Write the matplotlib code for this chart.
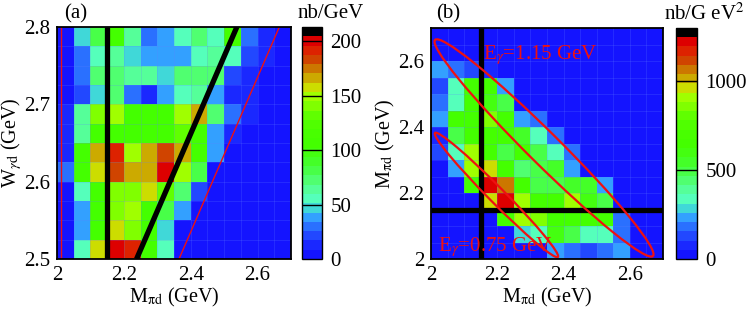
import numpy as np
import matplotlib
matplotlib.use("Agg")
import matplotlib.pyplot as plt
from matplotlib.colors import ListedColormap
from matplotlib.patches import Ellipse

plt.rcParams['font.family'] = ['Liberation Serif', 'DejaVu Serif']
plt.rcParams['mathtext.fontset'] = 'stix'

# ---------------- data ----------------
x_edges = np.round(np.arange(2.0, 2.7001, 0.05), 3)          # M_pi d bins
yA_edges = np.round(np.arange(2.5, 2.8001, 0.025), 4)        # W_gamma d bins
yB_edges = np.round(np.arange(2.0, 2.7001, 0.05), 3)         # M_pi d bins (panel b)

# panel (a): nb/GeV, rows listed from top (W=2.8) to bottom (W=2.5)
panel_a_top_to_bottom = [
    [4, 47, 81, 106, 64, 30, 38, 55, 72, 55, 106, 30, 13, 4],
    [4, 30, 55, 64, 47, 38, 38, 38, 55, 64, 55, 21, 13, 4],
    [4, 30, 72, 72, 64, 64, 47, 72, 72, 72, 21, 13, 4, 4],
    [4, 21, 47, 72, 30, 17, 38, 55, 60, 38, 13, 13, 4, 4],
    [13, 64, 140, 149, 106, 106, 106, 149, 166, 72, 30, 13, 4, 4],
    [13, 64, 106, 106, 106, 106, 110, 132, 106, 38, 13, 4, 4, 4],
    [17, 106, 166, 192, 149, 166, 183, 166, 106, 38, 4, 4, 4, 4],
    [30, 106, 157, 183, 166, 166, 200, 145, 81, 4, 4, 4, 4, 4],
    [8, 55, 106, 140, 140, 157, 132, 72, 21, 4, 4, 4, 4, 4],
    [4, 38, 106, 140, 145, 106, 81, 38, 4, 4, 4, 4, 4, 4],
    [4, 38, 106, 157, 140, 106, 47, 8, 4, 4, 4, 4, 4, 4],
    [4, 55, 157, 200, 192, 106, 55, 4, 4, 4, 4, 4, 4, 4],
]

# panel (b): nb/GeV^2, rows listed from top (M=2.7) to bottom (M=2.0)
panel_b_top_to_bottom = [
    [0, 0, 0, 0, 0, 0, 0, 0, 0, 0, 0, 0, 0, 0],
    [0, 0, 0, 0, 0, 0, 0, 0, 0, 0, 0, 0, 0, 0],
    [234, 182, 130, 60, 0, 0, 0, 0, 0, 0, 0, 0, 0, 0],
    [130, 338, 650, 650, 234, 0, 0, 0, 0, 0, 0, 0, 0, 0],
    [182, 338, 650, 620, 494, 0, 0, 0, 0, 0, 0, 0, 0, 0],
    [234, 650, 650, 858, 650, 234, 182, 0, 0, 0, 0, 0, 0, 0],
    [78, 494, 650, 650, 650, 546, 338, 182, 0, 0, 0, 0, 0, 0],
    [130, 338, 910, 650, 494, 650, 494, 338, 182, 0, 0, 0, 0, 0],
    [0, 234, 910, 962, 650, 442, 494, 546, 234, 0, 0, 0, 0, 0],
    [0, 0, 650, 1222, 1066, 650, 494, 494, 546, 546, 234, 0, 0, 0],
    [0, 0, 0, 962, 1222, 910, 650, 650, 910, 600, 494, 0, 0, 0],
    [0, 0, 0, 0, 650, 910, 880, 650, 650, 650, 650, 182, 0, 0],
    [0, 0, 0, 0, 0, 260, 338, 598, 494, 338, 338, 182, 0, 0],
    [0, 0, 0, 0, 0, 0, 0, 234, 182, 150, 200, 234, 0, 0],
]

cbar_a_ticks = [0, 50, 100, 150, 200]
cbar_b_ticks = [0, 500, 1000]
vmax_a = 213
vmax_b = 1300

palette = ['#1414ff', '#1a28ff', '#2248ff', '#2a70ff', '#33a0ff', '#40d8d8',
           '#55ffbb', '#55ff99', '#50ff70', '#48ff48', '#44ff28', '#44ff10',
           '#44ff00', '#48ff00', '#50ff00', '#60ff00', '#80ff00', '#a0ff00',
           '#ccdd00', '#ccaa00', '#cc7700', '#d04400', '#dd2200', '#dd0000',
           '#000000']
cmap = ListedColormap(palette)

# ---------------- figure ----------------
W, H = 747, 317
fig = plt.figure(figsize=(W / 100, H / 100), dpi=100)

def fa(l, t, r, b):
    return [l / W, 1 - b / H, (r - l) / W, (b - t) / H]

ax1 = fig.add_axes(fa(57, 27, 291, 259))
cax1 = fig.add_axes(fa(302, 27, 322, 259))
ax2 = fig.add_axes(fa(431, 28, 663, 259))
cax2 = fig.add_axes(fa(676, 28, 697, 259))

FS = 15
FSL = 14.5
RED = '#ee1111'

def style_axes(ax):
    for s in ax.spines.values():
        s.set_linewidth(1.3)
        s.set_zorder(10)
    ax.tick_params(length=0, labelsize=FS, pad=5)

def faint_grid(ax, xe, ye):
    for x in xe[1:-1]:
        ax.axvline(x, color='#6080ff', lw=0.6, alpha=0.25, zorder=2)
    for y in ye[1:-1]:
        ax.axhline(y, color='#6080ff', lw=0.6, alpha=0.25, zorder=2)

# panel (a)
Za = np.array(panel_a_top_to_bottom)[::-1]
m1 = ax1.pcolormesh(x_edges, yA_edges, Za, cmap=cmap, vmin=0, vmax=vmax_a, zorder=1)
faint_grid(ax1, x_edges, yA_edges)
ax1.set_xlim(2.0, 2.7)
ax1.set_ylim(2.5, 2.8)
ax1.set_xticks([2.0, 2.2, 2.4, 2.6])
ax1.set_xticklabels(['2', '2.2', '2.4', '2.6'])
ax1.set_yticks([2.5, 2.6, 2.7, 2.8])
ax1.set_yticklabels(['2.5', '2.6', '2.7', '2.8'])
style_axes(ax1)
ax1.plot([2.15, 2.15], [2.5, 2.8], color='k', lw=3.8, zorder=5, solid_capstyle='butt')
ax1.plot([2.238, 2.538], [2.5, 2.8], color='k', lw=3.8, zorder=5, solid_capstyle='butt')
ax1.plot([2.012, 2.012], [2.5, 2.8], color=RED, lw=1.0, zorder=5)
ax1.plot([2.365, 2.665], [2.5, 2.8], color=RED, lw=1.0, zorder=5)
ax1.set_xlabel(r'M$_{\mathrm{\pi d}}$ (GeV)', fontsize=FSL)
ax1.xaxis.set_label_coords(0.5, -0.115)
ax1.set_ylabel(r'W$_{\gamma \mathrm{d}}$ (GeV)', fontsize=FSL)
ax1.yaxis.set_label_coords(-0.14, 0.5)
fig.text(64 / W, 1 - 14 / H, '(a)', fontsize=FS, va='center', ha='left')

cb1 = fig.colorbar(m1, cax=cax1, ticks=cbar_a_ticks)
cb1.outline.set_linewidth(1.0)
cax1.tick_params(length=0, labelsize=FS, pad=6)
for t in cbar_a_ticks[1:]:
    cax1.axhline(t, color='k', lw=1.0)
fig.text(331 / W, 1 - 14 / H, 'nb/GeV', fontsize=FS, va='center', ha='center')

# panel (b)
Zb = np.array(panel_b_top_to_bottom)[::-1]
m2 = ax2.pcolormesh(x_edges, yB_edges, Zb, cmap=cmap, vmin=0, vmax=vmax_b, zorder=1)
faint_grid(ax2, x_edges, yB_edges)
ax2.set_xlim(2.0, 2.7)
ax2.set_ylim(2.0, 2.7)
ax2.set_xticks([2.0, 2.2, 2.4, 2.6])
ax2.set_xticklabels(['2', '2.2', '2.4', '2.6'])
ax2.set_yticks([2.0, 2.2, 2.4, 2.6])
ax2.set_yticklabels(['2', '2.2', '2.4', '2.6'])
style_axes(ax2)
ax2.plot([2.15, 2.15], [2.0, 2.7], color='k', lw=3.8, zorder=5, solid_capstyle='butt')
ax2.plot([2.0, 2.7], [2.15, 2.15], color='k', lw=3.8, zorder=5, solid_capstyle='butt')
ax2.add_patch(Ellipse((2.341, 2.3365), 0.928, 0.096, angle=-44.9,
                      fill=False, edgecolor=RED, lw=1.6, zorder=6))
ax2.add_patch(Ellipse((2.1975, 2.194), 0.528, 0.047, angle=-45.4,
                      fill=False, edgecolor=RED, lw=1.6, zorder=6))
ax2.text(2.156, 2.618, r'E$_{\gamma}$=1.15 GeV', color=RED, fontsize=FS,
         va='center', ha='left', zorder=7)
ax2.text(2.02, 2.036, r'E$_{\gamma}$=0.75 GeV', color=RED, fontsize=FS,
         va='center', ha='left', zorder=7)
ax2.set_xlabel(r'M$_{\mathrm{\pi d}}$ (GeV)', fontsize=FSL)
ax2.xaxis.set_label_coords(0.5, -0.115)
ax2.set_ylabel(r'M$_{\mathrm{\pi d}}$ (GeV)', fontsize=FSL)
ax2.yaxis.set_label_coords(-0.145, 0.5)
fig.text(436 / W, 1 - 14 / H, '(b)', fontsize=FS, va='center', ha='left')

cb2 = fig.colorbar(m2, cax=cax2, ticks=cbar_b_ticks)
cb2.outline.set_linewidth(1.0)
cax2.tick_params(length=0, labelsize=FS, pad=6)
for t in cbar_b_ticks[1:]:
    cax2.axhline(t, color='k', lw=1.0)
fig.text(745 / W, 1 - 14 / H, r'nb/G eV$^2$', fontsize=FS, va='center', ha='right')

fig.savefig('out.png', dpi=100)
